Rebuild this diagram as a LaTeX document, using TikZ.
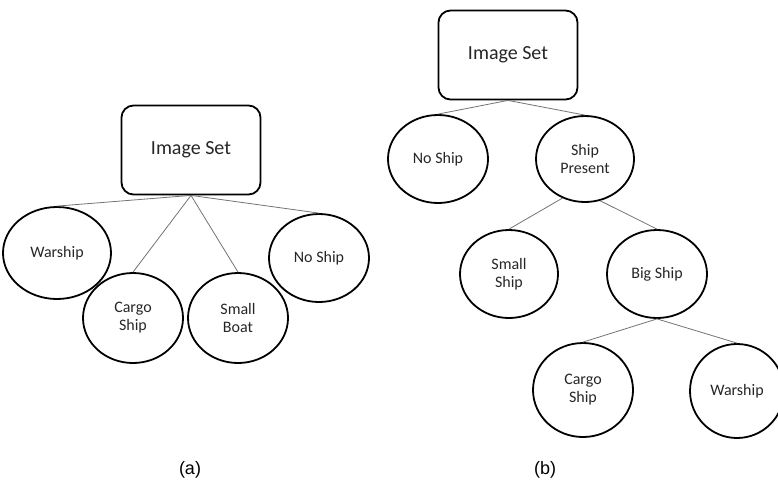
\documentclass[tikz,border=0pt]{standalone}
\usepackage{fontspec}
\setmainfont{Carlito}
\newfontfamily\arialfont{Liberation Sans}
\usetikzlibrary{shapes, positioning}

\begin{document}
\begin{tikzpicture}[x=1pt, y=-1pt]
      \tikzset{ imgset/.style={draw=black, line width=1.8pt, rounded corners=12pt, minimum width=139pt, minimum height=89pt, text=black!85, font=\fontsize{20}{24}\selectfont} }
      \tikzset{ cls/.style   ={draw=black, line width=1.8pt, ellipse, inner sep=0pt, minimum width=100pt, minimum height=88pt, align=center, text=black!85, font=\fontsize{16}{18}\selectfont} }
      \tikzset{ lnk/.style   ={draw=black!55, line width=0.8pt} }
      \tikzset{ sub/.style   ={font=\arialfont\fontsize{18}{20}\selectfont} }

      \useasboundingbox (0,0) rectangle (778,480);

      % (a) one level
      \node[imgset                                   ] (a_set)   at (191,150) {Image Set};
      \node[cls, minimum width=108pt, minimum height=92pt] (a_war)   at (57,253)  {Warship};
      \node[cls, minimum height=90pt                 ] (a_cargo) at (133,318) {Cargo\\Ship};
      \node[cls, minimum height=90pt                 ] (a_small) at (238,318) {Small\\Boat};
      \node[cls                                      ] (a_none)  at (319,258) {No Ship};

      \draw[lnk] (a_set.south) -- (a_war.north);
      \draw[lnk] (a_set.south) -- (a_cargo.north);
      \draw[lnk] (a_set.south) -- (a_small.north);
      \draw[lnk] (a_set.south) -- (a_none.north);

      \node[sub] (cap_a) at (190,470) {(a)};

      % (b) hierarchy
      \node[imgset                                   ] (b_set)   at (508,55)  {Image Set};
      \node[cls                                      ] (b_none)  at (438,159) {No Ship};
      \node[cls, minimum width=98pt, minimum height=86pt ] (b_ship)  at (585,159) {Ship\\Present};
      \node[cls, minimum width=98pt                  ] (b_small) at (509,274) {Small\\Ship};
      \node[cls                                      ] (b_big)   at (657,274) {Big Ship};
      \node[cls, minimum height=94pt                 ] (b_cargo) at (583,390) {Cargo\\Ship};
      \node[cls, minimum width=94pt, minimum height=94pt ] (b_war)   at (737,391) {Warship};

      \draw[lnk] (b_set.south)  -- (b_none.north);
      \draw[lnk] (b_set.south)  -- (b_ship.north);
      \draw[lnk] (b_ship.240)   -- (b_small.north);
      \draw[lnk] (b_ship.290)   -- (b_big.north);
      \draw[lnk] (b_big.south)  -- (b_cargo.north);
      \draw[lnk] (b_big.south)  -- (b_war.north);

      \node[sub] (cap_b) at (545,470) {(b)};
\end{tikzpicture}
\end{document}
